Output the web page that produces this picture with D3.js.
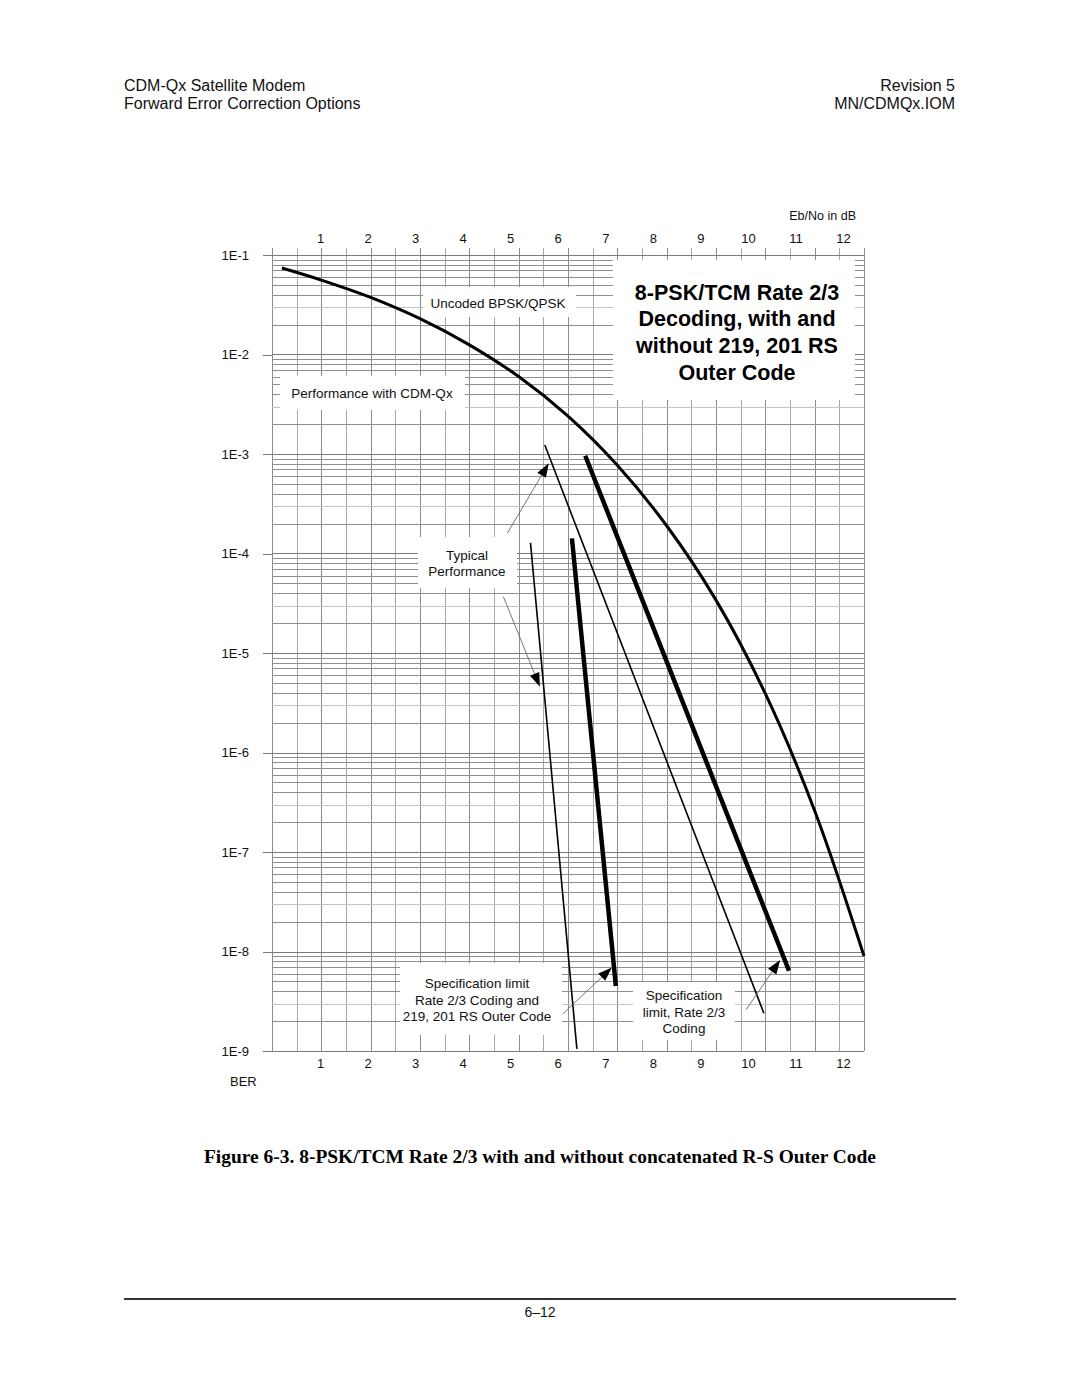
<!DOCTYPE html>
<html><head><meta charset="utf-8">
<script src="https://cdn.jsdelivr.net/npm/d3@7"></script>
<style>body{margin:0;background:#fff}svg{display:block}</style>
</head><body><svg id="c" width="1080" height="1397"></svg>
<script>
// ---------- data ----------
const ebnoTicks = [1,2,3,4,5,6,7,8,9,10,11,12];
const berTicks = [1e-1,1e-2,1e-3,1e-4,1e-5,1e-6,1e-7,1e-8,1e-9];
const berTickLabels = ["1E-1","1E-2","1E-3","1E-4","1E-5","1E-6","1E-7","1E-8","1E-9"];

// Uncoded BPSK/QPSK curve
const uncodedEbNo = [0.2, 1, 2, 3, 4, 5, 6, 7, 8, 9, 10, 11, 12];
const uncodedBer  = [0.074, 0.056, 0.0375, 0.0229, 0.0125, 0.0060, 0.0024, 7.7e-4, 1.9e-4, 3.4e-5, 3.9e-6, 2.6e-7, 9.0e-9];

// Typical performance, with 219,201 RS outer code (thin)
const typicalRsEbNo = [5.24, 6.18];
const typicalRsBer  = [1.28e-4, 1.05e-9];
// Specification limit, with RS outer code (thick)
const specRsEbNo = [6.08, 6.97];
const specRsBer  = [1.42e-4, 4.5e-9];
// Typical performance, rate 2/3 only (thin)
const typicalEbNo = [5.53, 9.97];
const typicalBer  = [1.23e-3, 2.4e-9];
// Specification limit, rate 2/3 only (thick)
const specEbNo = [6.35, 10.48];
const specBer  = [9.6e-4, 6.4e-9];

// Annotation arrows [fromEbNo, fromBer, toEbNo, toBer]
const arrowTypicalUpper = [4.77, 1.6e-4, 5.61, 8.07e-4];
const arrowTypicalLower = [4.69, 3.68e-5, 5.43, 4.58e-6];
const arrowSpecRs       = [5.89, 2.35e-9, 6.89, 6.9e-9];
const arrowSpec         = [9.61, 2.6e-9, 10.30, 8.2e-9];

const titleLines = ["8-PSK/TCM Rate 2/3","Decoding, with and","without 219, 201 RS","Outer Code"];
const typicalLines = ["Typical","Performance"];
const specRsLines = ["Specification limit","Rate 2/3 Coding and","219, 201 RS Outer Code"];
const specLines = ["Specification","limit, Rate 2/3","Coding"];

// ---------- layout ----------
const svg = d3.select("#c");
svg.append("rect").attr("width",1080).attr("height",1397).attr("fill","#fff");
const F = "Arial, 'Liberation Sans', Helvetica, sans-serif";

const x = d3.scaleLinear([0,12],[272,864]);
const xLabel = d3.scaleLinear([1,12],[320,843]);
const y = d3.scaleLog([1e-1,1e-9],[255,1051]);

// header
const hdr = svg.append("g").attr("font-family",F).attr("font-size",16).attr("fill","#111");
hdr.append("text").attr("x",124).attr("y",91).text("CDM-Qx Satellite Modem");
hdr.append("text").attr("x",124).attr("y",109).text("Forward Error Correction Options");
hdr.append("text").attr("x",955).attr("y",91).attr("text-anchor","end").text("Revision 5");
hdr.append("text").attr("x",955).attr("y",109).attr("text-anchor","end").text("MN/CDMQx.IOM");

// grid
const grid = svg.append("g").attr("shape-rendering","crispEdges");
const vlines = d3.range(0, 12.001, 0.5);
grid.selectAll("line.v").data(vlines).join("line")
  .attr("x1",d=>Math.round(x(d))+0.5).attr("x2",d=>Math.round(x(d))+0.5)
  .attr("y1",248).attr("y2",1051)
  .attr("stroke",(d,i)=> (i%2===1? "#a8a8a8":"#8c8c8c")).attr("stroke-width",1);
const hvals = [];
for (let k=-9;k<=-1;k++){
  hvals.push({v:Math.pow(10,k),major:true});
  if (k<-1) for (let m=2;m<=9;m++) hvals.push({v:m*Math.pow(10,k),major:false,m});
}
grid.selectAll("line.h").data(hvals).join("line")
  .attr("x1",272).attr("x2",864)
  .attr("y1",d=>Math.round(y(d.v))+0.5).attr("y2",d=>Math.round(y(d.v))+0.5)
  .attr("stroke",d=> d.major? "#7a7a7a" : (d.m===3? "#c4c4c4":"#8f8f8f"))
  .attr("stroke-width",d=> (!d.major && d.m===3)? 1.5:1);

// left axis (BER)
const yAxis = d3.axisLeft(y).tickValues(berTicks)
  .tickFormat((d,i)=>berTickLabels[i]).tickSize(9).tickPadding(14);
const ya = svg.append("g").attr("transform","translate(272,0)").call(yAxis);
ya.select(".domain").remove();
ya.selectAll(".tick line").attr("stroke","#7a7a7a").attr("shape-rendering","crispEdges");
ya.selectAll(".tick text").attr("font-family",F).attr("font-size",13).attr("fill","#111");

// top axis (Eb/No)
const xt = svg.append("g").attr("transform","translate(0,243)")
  .call(d3.axisTop(xLabel).tickValues(ebnoTicks).tickSize(0).tickPadding(0));
xt.select(".domain").remove();
xt.selectAll(".tick text").attr("font-family",F).attr("font-size",13).attr("fill","#111");
const xb = svg.append("g").attr("transform","translate(0,1059)")
  .call(d3.axisBottom(xLabel).tickValues(ebnoTicks).tickSize(0).tickPadding(0));
xb.select(".domain").remove();
xb.selectAll(".tick text").attr("font-family",F).attr("font-size",13).attr("fill","#111");

svg.append("text").attr("x",856).attr("y",220).attr("text-anchor","end")
  .attr("font-family",F).attr("font-size",12.5).attr("fill","#111").text("Eb/No in dB");
svg.append("text").attr("x",230).attr("y",1086)
  .attr("font-family",F).attr("font-size",13).attr("fill","#111").text("BER");

// white label boxes over the grid
const boxes = [
  [423,287,576,317],   // uncoded label
  [280,376,465,410],   // performance with CDM-Qx
  [613,260,855,400],   // title
  [418,537,517,588],   // typical performance
  [400,963,562,1035],  // spec limit RS
  [633,982,735,1040]   // spec limit rate 2/3
];
svg.append("g").selectAll("rect").data(boxes).join("rect")
  .attr("x",d=>d[0]).attr("y",d=>d[1]).attr("width",d=>d[2]-d[0]).attr("height",d=>d[3]-d[1])
  .attr("fill","#fff");

// curves
const line = d3.line().x(d=>x(d[0])).y(d=>y(d[1]));
const uncoded = d3.zip(uncodedEbNo, uncodedBer);
svg.append("path").datum(uncoded)
  .attr("d", d3.line().x(d=>x(d[0])).y(d=>y(d[1])).curve(d3.curveCatmullRom.alpha(0.5)))
  .attr("fill","none").attr("stroke","#000").attr("stroke-width",3);
const straight = [
  [typicalRsEbNo, typicalRsBer, 1.6],
  [specRsEbNo, specRsBer, 4.5],
  [typicalEbNo, typicalBer, 1.6],
  [specEbNo, specBer, 4.5]
];
straight.forEach(([xs,ys,w])=>{
  svg.append("path").datum(d3.zip(xs,ys)).attr("d",line)
    .attr("fill","none").attr("stroke","#000").attr("stroke-width",w);
});

// arrows
function arrow(a){
  const x1=x(a[0]), y1=y(a[1]), x2=x(a[2]), y2=y(a[3]);
  const dx=x2-x1, dy=y2-y1, L=Math.hypot(dx,dy), ux=dx/L, uy=dy/L;
  const hl=14, hw=5;
  const bx=x2-ux*hl, by=y2-uy*hl;
  svg.append("line").attr("x1",x1).attr("y1",y1).attr("x2",bx).attr("y2",by)
    .attr("stroke","#666").attr("stroke-width",0.9);
  svg.append("path").attr("d",`M${x2},${y2}L${bx-uy*hw},${by+ux*hw}L${bx+uy*hw},${by-ux*hw}Z`)
    .attr("fill","#000");
}
[arrowTypicalUpper, arrowTypicalLower, arrowSpecRs, arrowSpec].forEach(arrow);

// labels
const lab = svg.append("g").attr("font-family",F).attr("font-size",13.5).attr("fill","#111")
  .attr("text-anchor","middle");
lab.append("text").attr("x",498).attr("y",307.5).text("Uncoded BPSK/QPSK");
lab.append("text").attr("x",372).attr("y",397.5).text("Performance with CDM-Qx");
typicalLines.forEach((t,i)=>lab.append("text").attr("x",467).attr("y",559.5+i*16.5).text(t));
specRsLines.forEach((t,i)=>lab.append("text").attr("x",477).attr("y",988+i*16.5).text(t));
specLines.forEach((t,i)=>lab.append("text").attr("x",684).attr("y",1000+i*16.5).text(t));

const tg = svg.append("g").attr("font-family",F).attr("font-size",21.5).attr("font-weight","bold")
  .attr("fill","#000").attr("text-anchor","middle");
titleLines.forEach((t,i)=>tg.append("text").attr("x",737).attr("y",299.5+i*26.7).text(t));

// caption
svg.append("text").attr("x",540).attr("y",1163).attr("text-anchor","middle")
  .attr("font-family","'Times New Roman','Liberation Serif',serif").attr("font-weight","bold")
  .attr("font-size",18).attr("textLength",672).attr("lengthAdjust","spacingAndGlyphs")
  .attr("fill","#000")
  .text("Figure 6-3. 8-PSK/TCM Rate 2/3 with and without concatenated R-S Outer Code");

// footer
svg.append("line").attr("x1",124).attr("x2",956).attr("y1",1299).attr("y2",1299)
  .attr("stroke","#333").attr("stroke-width",2);
svg.append("text").attr("x",540).attr("y",1317).attr("text-anchor","middle")
  .attr("font-family",F).attr("font-size",14).attr("fill","#111").text("6–12");
</script></body></html>
